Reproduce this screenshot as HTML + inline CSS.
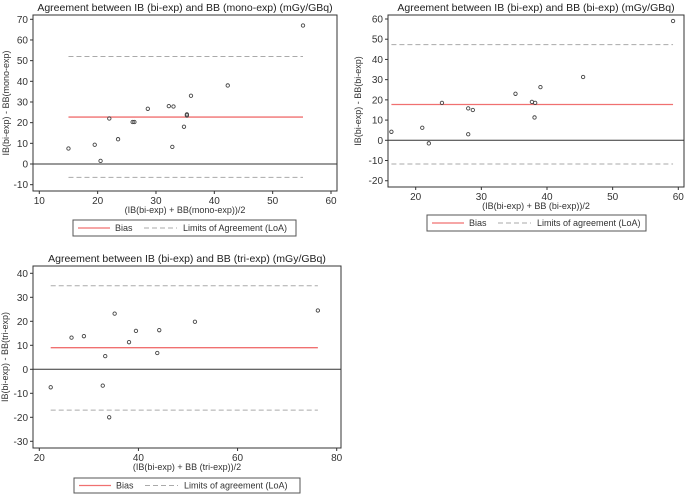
<!DOCTYPE html>
<html><head><meta charset="utf-8">
<style>
html,body{margin:0;padding:0;background:#fff;}
svg{display:block;font-family:"Liberation Sans",Arial,sans-serif;}
</style></head>
<body>
<svg id="c" width="685" height="495" viewBox="0 0 685 495"></svg>
<script>
// Panel 1 data: IB(bi-exp) vs BB(mono-exp)
const p1Means = [15,19.5,20.5,22,23.5,26,26.3,28.6,32.2,32.8,33,34.8,35.3,35.3,36,42.3,55.2];
const p1Diffs = [7.5,9.3,1.5,22,12,20.3,20.3,26.7,28,8.3,27.8,18,24,23.5,33,38,67];
const p1Stats = [22.7,52,-6.5]; // bias, upper LoA, lower LoA
const p1XTicks = [10,20,30,40,50,60];
const p1YTicks = [-10,0,10,20,30,40,50,60,70];
// Panel 2 data: IB(bi-exp) vs BB(bi-exp)
const p2Means = [16.3,21,22,24,28,28,28.7,35.2,37.7,38.2,38.1,39,45.5,59.2];
const p2Diffs = [4.2,6.2,-1.5,18.5,15.8,3,15,23,19,18.5,11.3,26.3,31.3,59];
const p2Stats = [17.7,47.3,-11.7];
const p2XTicks = [20,30,40,50,60];
const p2YTicks = [-20,-10,0,10,20,30,40,50,60];
// Panel 3 data: IB(bi-exp) vs BB(tri-exp)
const p3Means = [22.3,26.5,29,33.3,32.8,35.2,34.1,38.1,39.5,43.8,44.2,51.4,76.2];
const p3Diffs = [-7.5,13.2,13.8,5.5,-6.8,23.2,-20,11.3,16,6.8,16.3,19.8,24.5];
const p3Stats = [9,34.8,-17];
const p3XTicks = [20,40,60,80];
const p3YTicks = [-30,-20,-10,0,10,20,30,40];

const NS="http://www.w3.org/2000/svg";
const svg=document.getElementById('c');
function mk(tag,attrs,parent,text){const e=document.createElementNS(NS,tag);for(const k in attrs)e.setAttribute(k,attrs[k]);if(text!==undefined)e.textContent=text;(parent||svg).appendChild(e);return e;}

function panel(cfg){
  const g=mk('g',{});
  
  
  const sx=v=>cfg.x0px+(v-cfg.x0)*(cfg.x1px-cfg.x0px)/(cfg.x1-cfg.x0);
  const sy=v=>cfg.y0px+(v-cfg.y0)*(cfg.y1px-cfg.y0px)/(cfg.y1-cfg.y0);
  const b=cfg.box;
  const t=mk('text',{x:(b.l+b.r)/2,y:b.t-4,'text-anchor':'middle','font-size':'10.5',fill:'#222'},g,cfg.title);
  
  const fr=mk('rect',{x:b.l,y:b.t,width:b.r-b.l,height:b.b-b.t,fill:'none',stroke:'#333','stroke-width':'1'},g);
  
  cfg.xt.forEach(v=>{const x=sx(v);mk('line',{x1:x,x2:x,y1:b.b,y2:b.b+3,stroke:'#333'},g);
    const l=mk('text',{x:x,y:b.b+13,'text-anchor':'middle','font-size':'10',fill:'#333'},g,v);
    });
  cfg.yt.forEach(v=>{const y=sy(v);mk('line',{x1:b.l-3,x2:b.l,y1:y,y2:y,stroke:'#333'},g);
    const l=mk('text',{x:b.l-5,y:y+3.5,'text-anchor':'end','font-size':'10',fill:'#333'},g,v);
    });
  const xl=mk('text',{x:(b.l+b.r)/2,y:cfg.xlabY,'text-anchor':'middle','font-size':'9',fill:'#333'},g,cfg.xlab);
  
  const yc=(b.t+b.b)/2,yx=cfg.ylabX;
  const yl=mk('text',{x:yx,y:yc,'text-anchor':'middle','font-size':'9',fill:'#333',transform:`rotate(-90 ${yx} ${yc})`},g,cfg.ylab);
  
  const z=mk('line',{x1:b.l,x2:b.r,y1:sy(0),y2:sy(0),stroke:'#333','stroke-width':'1'},g);
  
  const xmin=Math.min(...cfg.means),xmax=Math.max(...cfg.means);
  const bl=mk('line',{x1:sx(xmin),x2:sx(xmax),y1:sy(cfg.stats[0]),y2:sy(cfg.stats[0]),stroke:'#f07070','stroke-width':'1.3'},g);
  
  [1,2].forEach(i=>{const l=mk('line',{x1:sx(xmin),x2:sx(xmax),y1:sy(cfg.stats[i]),y2:sy(cfg.stats[i]),stroke:'#aaa','stroke-width':'1','stroke-dasharray':'5,3'},g);
    });
  cfg.means.forEach((m,i)=>{const c=mk('circle',{cx:sx(m),cy:sy(cfg.diffs[i]),r:1.7,fill:'none',stroke:'#444','stroke-width':'0.9'},g);
    });
  const L=cfg.leg;
  const lg=mk('g',{},g);
  mk('rect',{x:L.l,y:L.t,width:L.r-L.l,height:L.b-L.t,fill:'#fff',stroke:'#555'},lg);
  const my=(L.t+L.b)/2;
  mk('line',{x1:L.l+5,x2:L.l+37,y1:my,y2:my,stroke:'#f07070','stroke-width':'1.3'},lg);
  const e1=mk('text',{x:L.l+42,y:my+3.2,'font-size':'9',fill:'#333'},lg,'Bias');
  
  mk('line',{x1:L.l+71,x2:L.l+104,y1:my,y2:my,stroke:'#aaa','stroke-dasharray':'5,3'},lg);
  const e2=mk('text',{x:L.l+110,y:my+3.2,'font-size':'9',fill:'#333'},lg,cfg.loaText);
  
}

panel({name:'panel-mono-exp',title:'Agreement between IB (bi-exp) and BB (mono-exp) (mGy/GBq)',
  means:p1Means,diffs:p1Diffs,stats:p1Stats,xt:p1XTicks,yt:p1YTicks,
  x0:10,x1:60,x0px:39.3,x1px:331,y0:0,y1:70,y0px:164,y1px:19.3,
  box:{l:33,r:337,t:15,b:191},xlabY:213,xlab:'(IB(bi-exp) + BB(mono-exp))/2',ylabX:9,ylab:'IB(bi-exp) - BB(mono-exp)',
  leg:{l:73,r:296,t:220,b:236},loaText:'Limits of Agreement (LoA)'});
panel({name:'panel-bi-exp',title:'Agreement between IB (bi-exp) and BB (bi-exp) (mGy/GBq)',
  means:p2Means,diffs:p2Diffs,stats:p2Stats,xt:p2XTicks,yt:p2YTicks,
  x0:20,x1:60,x0px:415.7,x1px:678.3,y0:0,y1:60,y0px:140.3,y1px:19,
  box:{l:388,r:684,t:15,b:187},xlabY:209,xlab:'(IB(bi-exp) + BB (bi-exp))/2',ylabX:361,ylab:'IB(bi-exp) - BB(bi-exp)',
  leg:{l:427,r:646,t:215,b:231},loaText:'Limits of agreement (LoA)'});
panel({name:'panel-tri-exp',title:'Agreement between IB (bi-exp) and BB (tri-exp) (mGy/GBq)',
  means:p3Means,diffs:p3Diffs,stats:p3Stats,xt:p3XTicks,yt:p3YTicks,
  x0:20,x1:80,x0px:39.3,x1px:336.7,y0:0,y1:40,y0px:369.3,y1px:273.3,
  box:{l:33,r:341,t:266,b:448},xlabY:470,xlab:'(IB(bi-exp) + BB (tri-exp))/2',ylabX:8,ylab:'IB(bi-exp) - BB(tri-exp)',
  leg:{l:74,r:300,t:478,b:493},loaText:'Limits of agreement (LoA)'});
</script>
</body></html>
